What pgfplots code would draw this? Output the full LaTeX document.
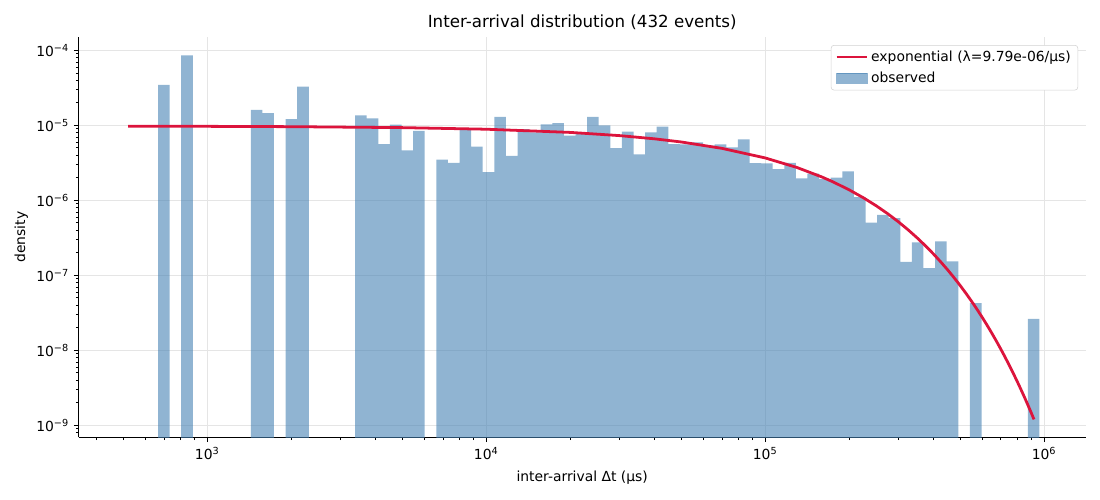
\documentclass[border=0pt]{standalone}
\usepackage{fontspec}
\setmainfont{DejaVu Sans}
\usepackage{pgfplots}
\pgfplotsset{compat=1.18}
\usepackage{pgfplotstable}
\definecolor{barcol}{RGB}{70,130,180}
\definecolor{crim}{RGB}{220,20,60}
\definecolor{gridc}{RGB}{229,229,229}
\definecolor{legc}{RGB}{210,210,210}

% histogram: left bin edges and density (1e-12 = empty bin, below the axis)
\pgfplotstableread{
x y
665.9 1e-12
665.9 3.46e-5
732.7 1e-12
806.4 8.57e-5
887.2 1e-12
976.3 1e-12
1074.5 1e-12
1182.4 1e-12
1301.1 1e-12
1432.0 1.61e-5
1575.8 1.46e-5
1734.2 1e-12
1908.4 1.21e-5
2100.1 3.29e-5
2311.0 1e-12
2543.4 1e-12
2799.0 1e-12
3080.1 1e-12
3389.6 1.36e-5
3729.6 1.235e-5
4104.5 5.61e-6
4517.1 1.02e-5
4971.1 4.63e-6
5470.7 8.42e-6
6019.9 1e-12
6624.8 3.48e-6
7290.6 3.16e-6
8023.3 8.61e-6
8829.7 5.22e-6
9716.5 2.37e-6
10693 1.292e-5
11768 3.91e-6
12950 8.89e-6
14252 8.08e-6
15683 1.028e-5
17258 1.068e-5
18993 7.28e-6
20902 7.71e-6
23003 1.30e-5
25313 1.0e-5
27857 4.96e-6
30657 8.26e-6
33738 4.10e-6
37129 8.06e-6
40858 9.58e-6
44964 5.63e-6
49483 5.58e-6
54456 5.92e-6
59929 5.38e-6
65949 5.59e-6
72577 5.08e-6
79872 6.5e-6
87899 3.14e-6
96733 3.10e-6
106414 2.60e-6
117108 3.15e-6
128878 1.966e-6
141831 2.27e-6
156085 1.918e-6
171791 2.01e-6
189057 2.436e-6
208057 1.107e-6
228967 5.03e-7
251978 6.40e-7
277289 5.81e-7
305157 1.51e-7
335826 2.74e-7
369577 1.246e-7
406720 2.83e-7
447603 1.54e-7
492587 1e-12
542093 4.25e-8
596574 1e-12
656530 1e-12
722349 1e-12
794946 1e-12
874840 2.63e-8
962762 1e-12
}\bars

\pgfplotstableread{
x y
520 9.740e-6
1000 9.695e-6
2000 9.600e-6
5000 9.322e-6
10000 8.877e-6
20000 8.049e-6
30000 7.299e-6
40000 6.618e-6
50000 6.001e-6
70000 4.933e-6
100000 3.678e-6
130000 2.742e-6
160000 2.044e-6
175000 1.765e-6
200000 1.382e-6
225000 1.0818e-6
250000 8.469e-7
275000 6.631e-7
300000 5.191e-7
325000 4.064e-7
350000 3.181e-7
375000 2.491e-7
400000 1.950e-7
425000 1.527e-7
450000 1.1955e-7
475000 9.358e-8
500000 7.328e-8
525000 5.736e-8
550000 4.491e-8
575000 3.516e-8
600000 2.753e-8
625000 2.155e-8
650000 1.687e-8
675000 1.321e-8
700000 1.034e-8
725000 8.096e-9
750000 6.338e-9
775000 4.962e-9
800000 3.884e-9
825000 3.042e-9
850000 2.381e-9
875000 1.864e-9
900000 1.4595e-9
920000 1.198e-9
}\expo

\begin{document}
\begin{tikzpicture}
\path[use as bounding box] (-56.66pt,-45.14pt) rectangle (735.34pt,314.85pt);
\begin{axis}[
  at={(0pt,0pt)}, anchor=south west,
  scale only axis, width=725.04pt, height=288.43pt,
  xmode=log, ymode=log,
  xmin=346, xmax=1.41e6, ymin=6.92e-10, ymax=1.52e-4,
  axis x line*=bottom, axis y line*=left,
  axis line style={-, line width=0.8pt, black},
  tick align=outside,
  major tick length=3.5pt, minor tick length=2pt,
  major tick style={black, line width=0.8pt},
  minor tick style={black, line width=0.6pt},
  xtick={1000,10000,100000,1000000},
  xticklabels={10\textsuperscript{3},10\textsuperscript{4},10\textsuperscript{5},10\textsuperscript{6}},
  minor xtick={400,500,600,700,800,900,2000,3000,4000,5000,6000,7000,8000,9000,20000,30000,40000,50000,60000,70000,80000,90000,200000,300000,400000,500000,600000,700000,800000,900000},
  ytick={1e-9,1e-8,1e-7,1e-6,1e-5,1e-4},
  yticklabels={10\textsuperscript{−9},10\textsuperscript{−8},10\textsuperscript{−7},10\textsuperscript{−6},10\textsuperscript{−5},10\textsuperscript{−4}},
  minor ytick={8e-10,9e-10,2e-9,3e-9,4e-9,5e-9,6e-9,7e-9,8e-9,9e-9,2e-8,3e-8,4e-8,5e-8,6e-8,7e-8,8e-8,9e-8,2e-7,3e-7,4e-7,5e-7,6e-7,7e-7,8e-7,9e-7,2e-6,3e-6,4e-6,5e-6,6e-6,7e-6,8e-6,9e-6,2e-5,3e-5,4e-5,5e-5,6e-5,7e-5,8e-5,9e-5},
  grid=major, major grid style={gridc, line width=0.8pt},
  ticklabel style={font=\fontsize{10}{12}\selectfont},
  xlabel={inter-arrival Δt (μs)},
  ylabel={density},
  label style={font=\fontsize{10}{12}\selectfont},
  xlabel style={yshift=-1.5pt},
  ylabel style={yshift=-1pt},
  title={Inter-arrival distribution (432 events)},
  title style={font=\fontsize{12}{14}\selectfont, yshift=-4.5pt},
  legend cell align=left,
  legend style={at={(1,1)}, anchor=north east, xshift=-5.5pt, yshift=-6pt,
    draw=legc, rounded corners=2pt, font=\fontsize{10}{12}\selectfont,
    inner xsep=3pt, inner ysep=2pt, row sep=2pt},
]
\addlegendimage{legend image code/.code={\draw[crim, line width=1.8pt, sharp corners] (-3pt,0pt) -- (19pt,0pt);}}
\addlegendentry{exponential (λ=9.79e-06/μs)}
\addlegendimage{legend image code/.code={\fill[barcol, opacity=0.6, sharp corners] (-3pt,-3.5pt) rectangle (19pt,3.5pt);}}
\addlegendentry{observed}
\addplot[const plot, draw=none, fill=barcol, fill opacity=0.6, forget plot] table {\bars} -- cycle;
\addplot[crim, line width=2pt, no marks, forget plot] table {\expo};
\end{axis}
\end{tikzpicture}
\end{document}
